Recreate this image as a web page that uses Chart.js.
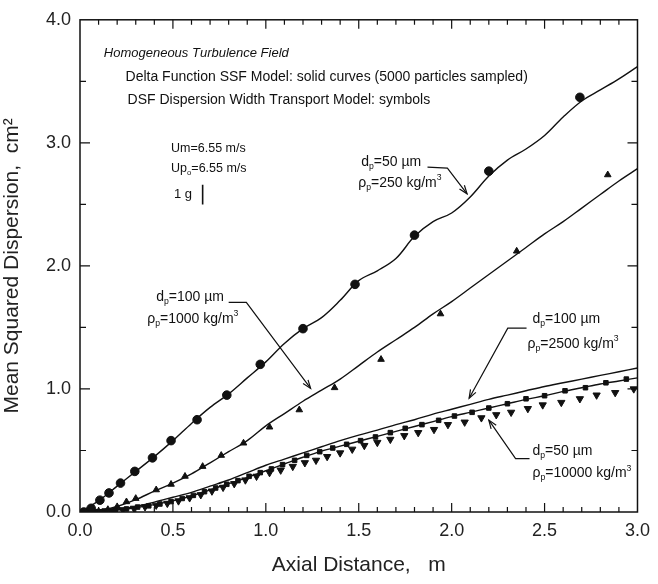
<!DOCTYPE html>
<html>
<head>
<meta charset="utf-8">
<style>
  html, body { margin: 0; padding: 0; background: #fff; }
</style>
<script src="https://cdn.jsdelivr.net/npm/chart.js@4.4.1/dist/chart.umd.min.js"></script>
</head>
<body>
<canvas id="chart" width="658" height="584"></canvas>
<script>
// Eixos
const xTickValues = [0, 0.5, 1.0, 1.5, 2.0, 2.5, 3.0];
const xTickLabels = ['0.0', '0.5', '1.0', '1.5', '2.0', '2.5', '3.0'];
const yTickValues = [0, 1, 2, 3, 4];
const yTickLabels = ['0.0', '1.0', '2.0', '3.0', '4.0'];

// Curvas contínuas (modelo SSF)
const curveX = [0.0, 0.1, 0.2, 0.3, 0.4, 0.5, 0.6, 0.7, 0.8, 0.9, 1.0, 1.1, 1.2, 1.3, 1.4, 1.5,
                1.6, 1.7, 1.8, 1.9, 2.0, 2.1, 2.2, 2.3, 2.4, 2.5, 2.6, 2.7, 2.8, 2.9, 3.0];
// dp=50 um, rho=250
const curve50_250 = [0.0, 0.09, 0.21, 0.33, 0.45, 0.58, 0.72, 0.85, 0.96, 1.09, 1.22, 1.37, 1.49, 1.58, 1.72, 1.88,
                     1.96, 2.06, 2.24, 2.36, 2.43, 2.56, 2.73, 2.86, 2.95, 3.06, 3.21, 3.34, 3.43, 3.52, 3.62];
// dp=100 um, rho=1000
const curve100_1000 = [0.0, 0.01, 0.045, 0.1, 0.17, 0.235, 0.31, 0.4, 0.49, 0.58, 0.7, 0.8, 0.9, 0.99, 1.08, 1.19,
                       1.3, 1.4, 1.5, 1.61, 1.71, 1.82, 1.93, 2.04, 2.15, 2.26, 2.36, 2.47, 2.58, 2.69, 2.79];
// dp=100 um, rho=2500
const curve100_2500 = [0.0, 0.005, 0.02, 0.045, 0.08, 0.12, 0.16, 0.21, 0.26, 0.32, 0.38, 0.43, 0.48, 0.53, 0.58, 0.625,
                       0.665, 0.71, 0.75, 0.795, 0.835, 0.875, 0.915, 0.95, 0.985, 1.02, 1.05, 1.08, 1.11, 1.14, 1.17];
// dp=50 um, rho=10000
const curve50_10000 = [0.0, 0.004, 0.015, 0.035, 0.06, 0.09, 0.13, 0.18, 0.23, 0.28, 0.335, 0.39, 0.445, 0.495, 0.535, 0.575,
                       0.615, 0.655, 0.695, 0.735, 0.775, 0.81, 0.845, 0.88, 0.915, 0.945, 0.98, 1.01, 1.04, 1.065, 1.09];

// Símbolos (modelo DSF)
const circleX = [0.02, 0.06, 0.107, 0.156, 0.218, 0.295, 0.39, 0.49, 0.63, 0.79, 0.97, 1.2, 1.48, 1.8, 2.2, 2.69];
const circleY = [0.0, 0.03, 0.096, 0.155, 0.235, 0.33, 0.44, 0.58, 0.75, 0.95, 1.2, 1.49, 1.85, 2.25, 2.77, 3.37];

const triUpX = [0.05, 0.1, 0.15, 0.2, 0.25, 0.3, 0.41, 0.49, 0.565, 0.66, 0.76, 0.88, 1.02, 1.18, 1.37, 1.62, 1.94, 2.35, 2.84];
const triUpY = [0.0, 0.005, 0.02, 0.043, 0.083, 0.11, 0.18, 0.225, 0.29, 0.37, 0.46, 0.56, 0.69, 0.83, 1.01, 1.24, 1.61, 2.12, 2.74];

const squareX = [0.03, 0.08, 0.13, 0.19, 0.25, 0.31, 0.37, 0.43, 0.49, 0.55, 0.61, 0.67, 0.73, 0.79, 0.85, 0.91, 0.97,
                 1.03, 1.09, 1.155, 1.22, 1.29, 1.36, 1.435, 1.51, 1.59, 1.67, 1.75, 1.84, 1.93, 2.015, 2.11, 2.2,
                 2.3, 2.4, 2.5, 2.61, 2.72, 2.83, 2.94];
const squareY = [0.0, 0.003, 0.008, 0.014, 0.025, 0.04, 0.05, 0.065, 0.085, 0.11, 0.135, 0.165, 0.195, 0.225, 0.255, 0.29, 0.32,
                 0.35, 0.385, 0.42, 0.46, 0.49, 0.52, 0.55, 0.58, 0.61, 0.645, 0.68, 0.71, 0.745, 0.78, 0.81, 0.845,
                 0.88, 0.92, 0.945, 0.985, 1.01, 1.05, 1.08];

const triDownX = [0.05, 0.11, 0.17, 0.23, 0.29, 0.35, 0.41, 0.47, 0.53, 0.59, 0.65, 0.71, 0.77, 0.83, 0.89, 0.95, 1.02,
                  1.08, 1.145, 1.21, 1.27, 1.33, 1.4, 1.465, 1.53, 1.6, 1.67, 1.745, 1.82, 1.905, 1.98, 2.07, 2.16,
                  2.24, 2.32, 2.41, 2.49, 2.59, 2.69, 2.78, 2.88, 2.98];
const triDownY = [0.0, 0.003, 0.01, 0.018, 0.03, 0.042, 0.055, 0.07, 0.09, 0.115, 0.14, 0.17, 0.2, 0.23, 0.26, 0.29, 0.32,
                  0.34, 0.37, 0.4, 0.42, 0.45, 0.48, 0.51, 0.54, 0.565, 0.59, 0.62, 0.645, 0.67, 0.71, 0.73, 0.765,
                  0.79, 0.81, 0.84, 0.87, 0.89, 0.92, 0.95, 0.97, 1.0];

// Textos e setas (coordenadas nos eixos)
const notes = [
  { text: 'Homogeneous Turbulence Field', x: 0.128, y: 3.73, size: 13, italic: true },
  { text: 'Delta Function SSF Model: solid curves (5000 particles sampled)', x: 0.245, y: 3.534, size: 14 },
  { text: 'DSF Dispersion Width Transport Model: symbols', x: 0.256, y: 3.35, size: 14 },
  { text: 'Um=6.55 m/s', x: 0.49, y: 2.95, size: 12.5 },
  { text: 'Up_o=6.55 m/s', x: 0.49, y: 2.79, size: 12.5 },
  { text: '1 g', x: 0.506, y: 2.58, size: 13 },
  { text: 'd_p=50 µm', x: 1.513, y: 2.843, size: 14 },
  { text: 'ρ_p=250 kg/m^3', x: 1.497, y: 2.675, size: 14 },
  { text: 'd_p=100 µm', x: 0.41, y: 1.743, size: 14 },
  { text: 'ρ_p=1000 kg/m^3', x: 0.362, y: 1.566, size: 14 },
  { text: 'd_p=100 µm', x: 2.435, y: 1.566, size: 14 },
  { text: 'ρ_p=2500 kg/m^3', x: 2.408, y: 1.365, size: 14 },
  { text: 'd_p=50 µm', x: 2.435, y: 0.498, size: 14 },
  { text: 'ρ_p=10000 kg/m^3', x: 2.435, y: 0.313, size: 14 }
];
const leaders = [
  [[1.87, 2.803], [1.977, 2.795], [2.083, 2.586]],
  [[0.8, 1.703], [0.895, 1.703], [1.241, 1.004]],
  [[2.403, 1.494], [2.302, 1.494], [2.094, 0.924]],
  [[2.419, 0.434], [2.344, 0.434], [2.2, 0.747]]
];
const gBar = [[0.66, 2.66], [0.66, 2.5]];

const FONT = '"Liberation Sans", Arial, sans-serif';
const INK = '#111';

const pts = (xs, ys) => xs.map((v, i) => ({ x: v, y: ys[i] }));

function lineSet(ys) {
  return {
    data: pts(curveX, ys),
    showLine: true,
    borderColor: INK,
    borderWidth: 1.4,
    pointRadius: 0,
    tension: 0.35,
    fill: false
  };
}

function symbolSet(xs, ys, style, r, rot) {
  return {
    data: pts(xs, ys),
    showLine: false,
    pointStyle: style,
    pointRadius: r,
    rotation: rot || 0,
    backgroundColor: INK,
    borderColor: INK,
    borderWidth: 1
  };
}

// texto com subscrito (_x) e sobrescrito (^x)
function drawRich(ctx, str, px, py, size, italic) {
  let cx = px;
  let i = 0;
  while (i < str.length) {
    let ch = str[i];
    let mode = 0;
    if ((ch === '_' || ch === '^') && i + 1 < str.length) {
      mode = ch === '_' ? 1 : -1;
      i++;
      ch = str[i];
    }
    const fs = mode ? size * 0.62 : size;
    ctx.font = (italic ? 'italic ' : '') + fs + 'px ' + FONT;
    const dy = mode === 1 ? size * 0.32 : mode === -1 ? -size * 0.38 : 0;
    ctx.fillText(ch, cx, py + dy);
    cx += ctx.measureText(ch).width;
    i++;
  }
}

const frameAndNotes = {
  id: 'frameAndNotes',
  afterDatasetsDraw(chart) {
    const { ctx, chartArea: a, scales: { x, y } } = chart;
    ctx.save();
    ctx.strokeStyle = INK;
    ctx.fillStyle = INK;
    ctx.lineWidth = 1.5;
    ctx.strokeRect(a.left, a.top, a.right - a.left, a.bottom - a.top);

    // marcas internas
    ctx.lineWidth = 1.2;
    ctx.beginPath();
    for (let i = 1; i < 30; i++) {
      const px = x.getPixelForValue(i / 10);
      const len = i % 5 === 0 ? 9 : 5;
      ctx.moveTo(px, a.bottom); ctx.lineTo(px, a.bottom - len);
      ctx.moveTo(px, a.top); ctx.lineTo(px, a.top + len);
    }
    for (let i = 1; i < 8; i++) {
      const py = y.getPixelForValue(i / 2);
      const len = i % 2 === 0 ? 10 : 6;
      ctx.moveTo(a.left, py); ctx.lineTo(a.left + len, py);
      ctx.moveTo(a.right, py); ctx.lineTo(a.right - len, py);
    }
    ctx.stroke();

    // textos
    ctx.beginPath();
    ctx.rect(a.left, a.top, a.right - a.left - 1, a.bottom - a.top);
    ctx.clip();
    ctx.textBaseline = 'middle';
    ctx.textAlign = 'left';
    notes.forEach(n => {
      drawRich(ctx, n.text, x.getPixelForValue(n.x), y.getPixelForValue(n.y), n.size, n.italic);
    });

    // setas
    ctx.lineWidth = 1.2;
    leaders.forEach(l => {
      const p = l.map(q => [x.getPixelForValue(q[0]), y.getPixelForValue(q[1])]);
      ctx.beginPath();
      ctx.moveTo(p[0][0], p[0][1]);
      for (let k = 1; k < p.length; k++) ctx.lineTo(p[k][0], p[k][1]);
      ctx.stroke();
      const e = p[p.length - 1], s = p[p.length - 2];
      const ang = Math.atan2(e[1] - s[1], e[0] - s[0]);
      ctx.beginPath();
      ctx.moveTo(e[0] - 9 * Math.cos(ang - 0.35), e[1] - 9 * Math.sin(ang - 0.35));
      ctx.lineTo(e[0], e[1]);
      ctx.lineTo(e[0] - 9 * Math.cos(ang + 0.35), e[1] - 9 * Math.sin(ang + 0.35));
      ctx.stroke();
    });

    // barra de "1 g"
    ctx.lineWidth = 1.6;
    ctx.beginPath();
    ctx.moveTo(x.getPixelForValue(gBar[0][0]), y.getPixelForValue(gBar[0][1]));
    ctx.lineTo(x.getPixelForValue(gBar[1][0]), y.getPixelForValue(gBar[1][1]));
    ctx.stroke();
    ctx.restore();
  }
};

const config = {
  type: 'scatter',
  data: {
    datasets: [
      lineSet(curve50_250),
      lineSet(curve100_1000),
      lineSet(curve100_2500),
      lineSet(curve50_10000),
      symbolSet(circleX, circleY, 'circle', 4.3),
      symbolSet(triUpX, triUpY, 'triangle', 3.8),
      symbolSet(squareX, squareY, 'rect', 3.2),
      symbolSet(triDownX, triDownY, 'triangle', 4.2, 180)
    ]
  },
  options: {
    responsive: false,
    animation: false,
    layout: { padding: { top: 14, right: 15, left: 0, bottom: 0 } },
    plugins: { legend: { display: false }, tooltip: { enabled: false } },
    scales: {
      x: {
        type: 'linear',
        min: 0,
        max: 3,
        grid: { display: false, drawTicks: false },
        border: { display: false },
        afterBuildTicks: s => { s.ticks = xTickValues.map(v => ({ value: v })); },
        afterFit: s => { s.height = 72; },
        ticks: {
          padding: 8,
          color: '#222',
          font: { family: FONT, size: 18 },
          maxRotation: 0,
          autoSkip: false,
          callback: (v, i) => xTickLabels[i]
        },
        title: {
          display: true,
          text: 'Axial Distance,   m',
          color: '#222',
          font: { family: FONT, size: 21 },
          padding: { top: 0, bottom: 6 }
        }
      },
      y: {
        type: 'linear',
        min: 0,
        max: 4,
        grid: { display: false, drawTicks: false },
        border: { display: false },
        afterBuildTicks: s => { s.ticks = yTickValues.map(v => ({ value: v })); },
        afterFit: s => { s.width = 80; },
        ticks: {
          padding: 9,
          color: '#222',
          font: { family: FONT, size: 18 },
          callback: (v, i) => yTickLabels[i]
        },
        title: {
          display: true,
          text: 'Mean Squared Dispersion,  cm²',
          color: '#222',
          font: { family: FONT, size: 21 },
          padding: { top: 0, bottom: 4 }
        }
      }
    }
  },
  plugins: [frameAndNotes]
};

window.onload = function () {
  const ctx = document.getElementById('chart').getContext('2d');
  new Chart(ctx, config);
};
</script>
</body>
</html>
